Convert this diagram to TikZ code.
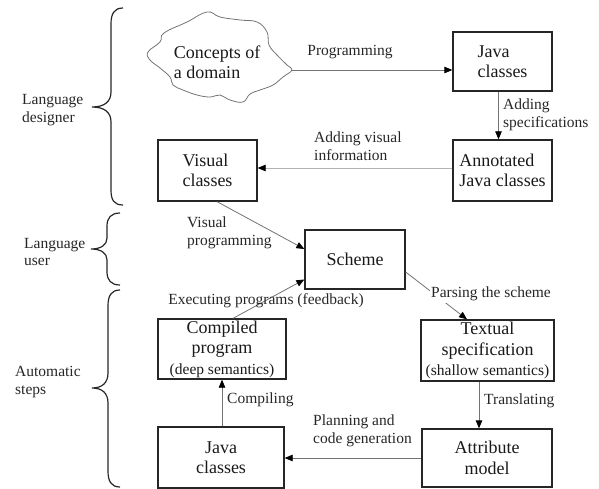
\documentclass[tikz,border=0pt]{standalone}
\usepackage{fontspec}
\setmainfont{Liberation Serif}
\usetikzlibrary{arrows.meta}
\newcommand{\notefont}{\fontsize{15.5}{17}\selectfont}
\begin{document}
\begin{tikzpicture}[x=1pt,y=-1pt,
  box/.style={draw=black!85, line width=1.3pt, inner sep=2pt,
    font=\fontsize{18}{20.5}\selectfont, text=black!90},
  lbl/.style={font=\fontsize{15.5}{17.5}\selectfont, inner sep=0pt, text=black!85},
  conn/.style={draw=black!55, line width=0.8pt,
    -{Triangle[length=8pt,width=6.5pt,color=black]}},
  lightconn/.style={conn, draw=black!30},
  bracepath/.style={draw=black!85, line width=1.2pt}]
\useasboundingbox (0,0) rectangle (599,489);

% group braces on the left
\draw[bracepath] (123,8) .. controls (114,8) and (111,14) .. (111,24) -- (111,92)
  .. controls (111,102) and (104,107) .. (92,107)
  .. controls (104,107) and (111,112) .. (111,122) -- (111,190)
  .. controls (111,200) and (114,205) .. (123,205);
\draw[bracepath] (120,213) .. controls (111,213) and (107,218) .. (107,226) -- (107,238)
  .. controls (107,245) and (101,249) .. (91,249)
  .. controls (101,249) and (107,253) .. (107,260) -- (107,272)
  .. controls (107,280) and (111,285) .. (120,285);
\draw[bracepath] (120,290) .. controls (111,290) and (108,296) .. (108,306) -- (108,373)
  .. controls (108,383) and (102,388) .. (92,388)
  .. controls (102,388) and (108,393) .. (108,403) -- (108,471)
  .. controls (108,481) and (111,487) .. (120,487);

\node[lbl, align=left, anchor=west] (designer) at (22,110) {Language\\designer};
\node[lbl, align=left, anchor=west] (user) at (24,252) {Language\\user};
\node[lbl, align=left, anchor=west] (auto) at (15,382) {Automatic\\steps};

% domain cloud
\draw[draw=black!55, line width=0.8pt] plot[smooth cycle, tension=0.7] coordinates {
  (148,52) (160,42) (164,33) (187,22) (207,12) (220,17) (240,20) (257,22)
  (267,32) (269,45) (277,55) (287,65) (292,70) (283,77) (273,85) (260,90)
  (250,94) (243,102) (230,100) (220,95) (210,97) (197,95) (183,90) (173,85)
  (170,77) (160,68) (150,60)};
\coordinate (cloudtip) at (292,70);
\node[font=\fontsize{18}{20}\selectfont, align=left, text=black!90] (concepts) at (217,62) {Concepts of\\a domain};

% boxes
\node[box, minimum width=99, minimum height=59, align=left] (javaT) at (502.5,61.5) {Java\\classes};
\node[box, minimum width=99, minimum height=61, align=left] (annot) at (502.5,170.5) {Annotated\\Java classes};
\node[box, minimum width=99, minimum height=61, align=left] (visual) at (207.5,170.5) {Visual\\classes};
\node[box, minimum width=100, minimum height=59, align=center] (scheme) at (355,259.5) {Scheme};
\node[box, minimum width=128, minimum height=60, align=center, inner sep=1pt] (compiled) at (222,349)
  {Compiled\\program\\{\notefont (deep semantics)}};
\node[box, minimum width=133, minimum height=61, align=center, inner sep=1pt] (textual) at (487.5,350.5)
  {Textual\\specification\\{\notefont (shallow semantics)}};
\node[box, minimum width=130, minimum height=58, align=center] (attr) at (487,458) {Attribute\\model};
\node[box, minimum width=126, minimum height=61, align=center] (javaB) at (221,457.5) {Java\\classes};

% connectors
\draw[conn] (cloudtip) -- (cloudtip -| javaT.west);
\node[lbl] (lprog) at (350,52) {Programming};

\draw[conn] ([xshift=-4pt]javaT.south) -- ([xshift=-4pt]annot.north);
\node[lbl, align=left, anchor=west] (lspec) at (503,115) {Adding\\specifications};

\draw[lightconn] ([yshift=2.5pt]annot.west) -- ([yshift=2.5pt]visual.east);
\node[lbl, align=left, anchor=west] (lvis) at (314,146) {Adding visual\\information};

\draw[conn] ([xshift=9.5pt]visual.south) -- ([yshift=10.5pt]scheme.west);
\node[lbl, align=left, anchor=west] (lvprog) at (187,233) {Visual\\programming};

\draw[conn] ([xshift=11pt]compiled.north) -- ([yshift=-20pt]scheme.west);
\node[lbl] (lexec) at (266,301) {Executing programs (feedback)};

\draw[conn] ([yshift=-12.5pt]scheme.east) -- ([xshift=-20.5pt]textual.north);
\node[lbl, fill=white, inner sep=1.5pt] (lparse) at (491,294) {Parsing the scheme};

\draw[conn] ([xshift=-8.5pt]textual.south) -- ([xshift=-8pt]attr.north);
\node[lbl, anchor=west] (ltrans) at (484,401) {Translating};

\draw[conn] (attr.west) -- (attr.west -| javaB.east);
\node[lbl, align=left, anchor=west] (lplan) at (313,431) {Planning and\\code generation};

\draw[conn] (javaB.north -| 222,0) -- (compiled.south);
\node[lbl, anchor=west] (lcomp) at (227,400) {Compiling};
\end{tikzpicture}
\end{document}
